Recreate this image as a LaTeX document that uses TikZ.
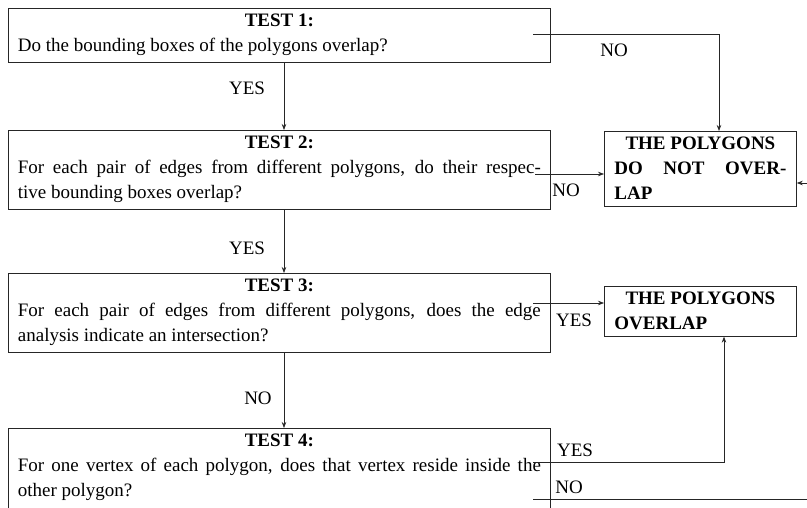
\documentclass[tikz,border=0pt]{standalone}
\usepackage{fontspec}
\setmainfont{Liberation Serif}
\usetikzlibrary{arrows.meta}
\begin{document}
\begin{tikzpicture}[x=1pt,y=-1pt,
  font=\fontsize{19}{25}\selectfont,
  box/.style={draw=black!85, line width=0.8pt, rectangle, anchor=north west,
    text width=523pt, inner xsep=9.5pt, inner ysep=6pt, align=justify},
  rbox/.style={draw=black!85, line width=0.8pt, rectangle, anchor=north west,
    text width=172pt, inner xsep=10pt, inner ysep=6pt, align=justify,
    font=\fontsize{19}{25}\selectfont\bfseries},
  arr/.style={draw=black!85, line width=0.7pt, -{Stealth[length=6pt,width=4.5pt]}},
  ln/.style={draw=black!85, line width=0.7pt},
  lbl/.style={inner sep=0pt}]
\useasboundingbox (0,0) rectangle (807,508);
\clip (0,0) rectangle (807,508);

% main test boxes
\node[box] (b1) at (8,8) {{\centering\textbf{TEST 1:}\par}Do the bounding boxes of the polygons overlap?};
\node[box] (b2) at (8,130) {{\centering\textbf{TEST 2:}\par}For each pair of edges from different polygons, do their respec-\linebreak tive bounding boxes overlap?};
\node[box] (b3) at (8,273) {{\centering\textbf{TEST 3:}\par}For each pair of edges from different polygons, does the edge\linebreak analysis indicate an intersection?};
\node[box] (b4) at (8,428) {{\centering\textbf{TEST 4:}\par}For one vertex of each polygon, does that vertex reside inside the\linebreak other polygon?\par\mbox{}};

% result boxes
\node[rbox] (dno) at (604,131) {{\centering THE POLYGONS\par}DO NOT OVER-\linebreak LAP};
\node[rbox] (ov) at (604,286) {{\centering THE POLYGONS\par}OVERLAP};

% coordinates
\coordinate (vx) at (284,0);
\coordinate (s1) at (533,34);
\coordinate (k1) at (719,34);
\coordinate (s2) at (535,174);
\coordinate (e1) at (807,183);
\coordinate (s3) at (533,303);
\coordinate (s4) at (533,462);
\coordinate (k4) at (724,462);
\coordinate (s5) at (533,499);
\coordinate (e5) at (807,499);

% vertical flow
\draw[arr] (b1.south -| vx) -- (b2.north -| vx);
\draw[arr] (b2.south -| vx) -- (b3.north -| vx);
\draw[arr] (b3.south -| vx) -- (b4.north -| vx);

% side connectors
\draw[arr] (s1) -- (k1) -- (k1 |- dno.north);
\draw[arr] (s2) -- (dno.west |- s2);
\draw[arr] (e1) -- (dno.east |- e1);
\draw[arr] (s3) -- (ov.west |- s3);
\draw[arr] (s4) -- (k4) -- (k4 |- ov.south);
\draw[ln] (s5) -- (e5);

% labels
\node[lbl] (l1) at (247,88) {YES};
\node[lbl] (l2) at (247,248) {YES};
\node[lbl] (l3) at (258,398) {NO};
\node[lbl] (l4) at (614,50) {NO};
\node[lbl] (l5) at (566,190) {NO};
\node[lbl] (l6) at (574,320) {YES};
\node[lbl] (l7) at (575,450) {YES};
\node[lbl] (l8) at (569,487) {NO};
\end{tikzpicture}
\end{document}
